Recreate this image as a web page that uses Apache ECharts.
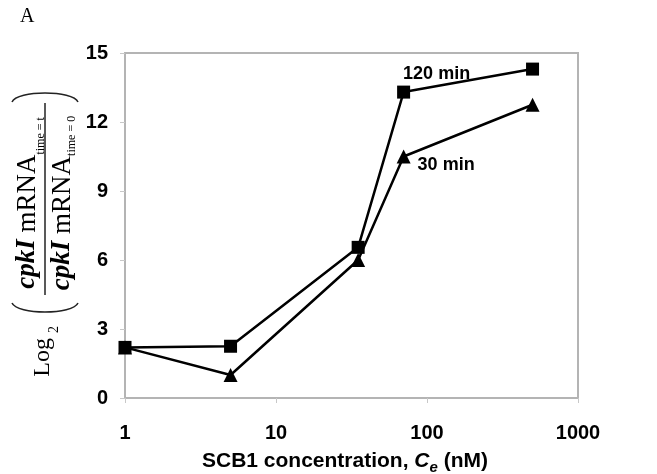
<!DOCTYPE html>
<html>
<head>
<meta charset="utf-8">
<script src="https://cdn.jsdelivr.net/npm/echarts@6/dist/echarts.min.js"></script>
<style>
html,body{margin:0;padding:0;background:#fff;}
#chart{width:657px;height:474px;}
</style>
</head>
<body>
<div id="chart"></div>
<script>
// values
var concentrations = [1, 5, 35, 70, 500];
var min120 = [2.2, 2.25, 6.55, 13.3, 14.3];
var min30 = [2.2, 1.0, 6.0, 10.5, 12.75];
var yTicks = [0, 3, 6, 9, 12, 15];
var xTicks = [1, 10, 100, 1000];
var seriesNames = ['120 min', '30 min'];

var serif = '"Liberation Serif", "Times New Roman", serif';
var sans = '"Liberation Sans", Arial, sans-serif';

function pairs(xs, ys){
	var out = [];
	for(var i = 0; i < xs.length; i++){
		out.push([xs[i], ys[i]]);
	}
	return out;
}

function withLabel(data, idx, label){
	var d = data.slice();
	d[idx] = {value: data[idx], label: label};
	return d;
}

function loadChart(){
	var myChart = echarts.init(document.getElementById('chart'));
	var d120 = withLabel(pairs(concentrations, min120), 3, {
		show: true, position: 'top', distance: 5, offset: [33, 2],
		formatter: '{a}', color: '#000', fontFamily: sans, fontWeight: 'bold', fontSize: 18
	});
	var d30 = withLabel(pairs(concentrations, min30), 3, {
		show: true, position: 'right', distance: 5, offset: [2, 9],
		formatter: '{a}', color: '#000', fontFamily: sans, fontWeight: 'bold', fontSize: 18
	});
	var option = {
		backgroundColor: '#fff',
		animation: false,
		grid: {
			left: 125, right: 79, top: 53, bottom: 76,
			show: true, borderColor: '#b4b4b4', borderWidth: 2,
			outerBoundsMode: 'none'
		},
		xAxis: {
			type: 'log',
			logBase: 10,
			min: xTicks[0],
			max: xTicks[xTicks.length - 1],
			name: 'SCB1 concentration, {i|C}{s|e} (nM)',
			nameLocation: 'middle',
			nameGap: 50,
			nameTextStyle: {
				color: '#000', fontFamily: sans, fontWeight: 'bold', fontSize: 21,
				padding: [0, 13, 0, 0],
				rich: {
					i: {fontFamily: sans, fontWeight: 'bold', fontStyle: 'italic', fontSize: 21, lineHeight: 21, color: '#000'},
					s: {fontFamily: sans, fontWeight: 'bold', fontStyle: 'italic', fontSize: 15, lineHeight: 15, padding: [12, 0, 0, 0], color: '#000'}
				}
			},
			axisLine: {lineStyle: {color: '#b4b4b4', width: 2}},
			axisTick: {show: true, length: 5, lineStyle: {color: '#c8c8c8'}},
			minorTick: {show: false},
			splitLine: {show: false},
			axisLabel: {
				margin: 25, color: '#000', fontFamily: sans, fontWeight: 'bold', fontSize: 20,
				formatter: function(v){ return String(Math.round(v)); }
			}
		},
		yAxis: {
			type: 'value',
			min: yTicks[0],
			max: yTicks[yTicks.length - 1],
			interval: yTicks[1] - yTicks[0],
			axisLine: {show: true, lineStyle: {color: '#b4b4b4', width: 2}},
			axisTick: {show: true, length: 5, lineStyle: {color: '#c8c8c8'}},
			splitLine: {show: false},
			axisLabel: {margin: 17, color: '#000', fontFamily: sans, fontWeight: 'bold', fontSize: 20}
		},
		series: [
			{
				name: seriesNames[0],
				type: 'line',
				data: d120,
				symbol: 'rect',
				symbolSize: 13,
				itemStyle: {color: '#000'},
				lineStyle: {color: '#000', width: 2.5}
			},
			{
				name: seriesNames[1],
				type: 'line',
				data: d30,
				symbol: 'triangle',
				symbolSize: 14,
				itemStyle: {color: '#000'},
				lineStyle: {color: '#000', width: 2.5}
			}
		],
		graphic: [
			{type: 'text', left: 20, top: 7, style: {text: 'A', font: '20px ' + serif, fill: '#000'}},
			{
				type: 'group',
				x: 45, y: 200,
				rotation: Math.PI / 2,
				children: [
					{type: 'text', x: -126, y: -2.5, style: {
						text: '{a|Log}{b|2}', align: 'right', verticalAlign: 'middle',
						fontFamily: serif, fontSize: 24, fill: '#000',
						rich: {
							a: {fontFamily: serif, fontSize: 24, lineHeight: 24, fill: '#000'},
							b: {fontFamily: serif, fontSize: 14, lineHeight: 14, padding: [24, 0, 0, 5], fill: '#000'}
						}
					}},
					{type: 'bezierCurve', shape: {x1: -103, y1: -33, cpx1: -115, cpy1: -28, cpx2: -115, cpy2: 28, x2: -103, y2: 33},
						style: {stroke: '#222', lineWidth: 1.5, fill: null}},
					{type: 'bezierCurve', shape: {x1: 98, y1: -33, cpx1: 110, cpy1: -28, cpx2: 110, cpy2: 28, x2: 98, y2: 33},
						style: {stroke: '#222', lineWidth: 1.5, fill: null}},
					{type: 'line', shape: {x1: -95, y1: 0, x2: 97, y2: 0}, style: {stroke: '#222', lineWidth: 1.5}},
					{type: 'text', x: -3, y: -17.5, style: {
						text: '{i|cpkI} {r|mRNA}{s|time = t}', align: 'center', verticalAlign: 'middle',
						fontFamily: serif, fontSize: 27, fill: '#000',
						rich: {
							i: {fontFamily: serif, fontSize: 27, fontStyle: 'italic', fontWeight: 'bold', lineHeight: 27, fill: '#000'},
							r: {fontFamily: serif, fontSize: 27, lineHeight: 27, fill: '#000'},
							s: {fontFamily: serif, fontSize: 12, lineHeight: 12, padding: [27, 0, 0, 0], fill: '#000'}
						}
					}},
					{type: 'text', x: -3, y: 17.5, style: {
						text: '{i|cpkI} {r|mRNA}{s|time = 0}', align: 'center', verticalAlign: 'middle',
						fontFamily: serif, fontSize: 27, fill: '#000',
						rich: {
							i: {fontFamily: serif, fontSize: 27, fontStyle: 'italic', fontWeight: 'bold', lineHeight: 27, fill: '#000'},
							r: {fontFamily: serif, fontSize: 27, lineHeight: 27, fill: '#000'},
							s: {fontFamily: serif, fontSize: 12, lineHeight: 12, padding: [18, 0, 0, 0], fill: '#000'}
						}
					}}
				]
			}
		]
	};
	myChart.setOption(option);
}
loadChart();
</script>
</body>
</html>
